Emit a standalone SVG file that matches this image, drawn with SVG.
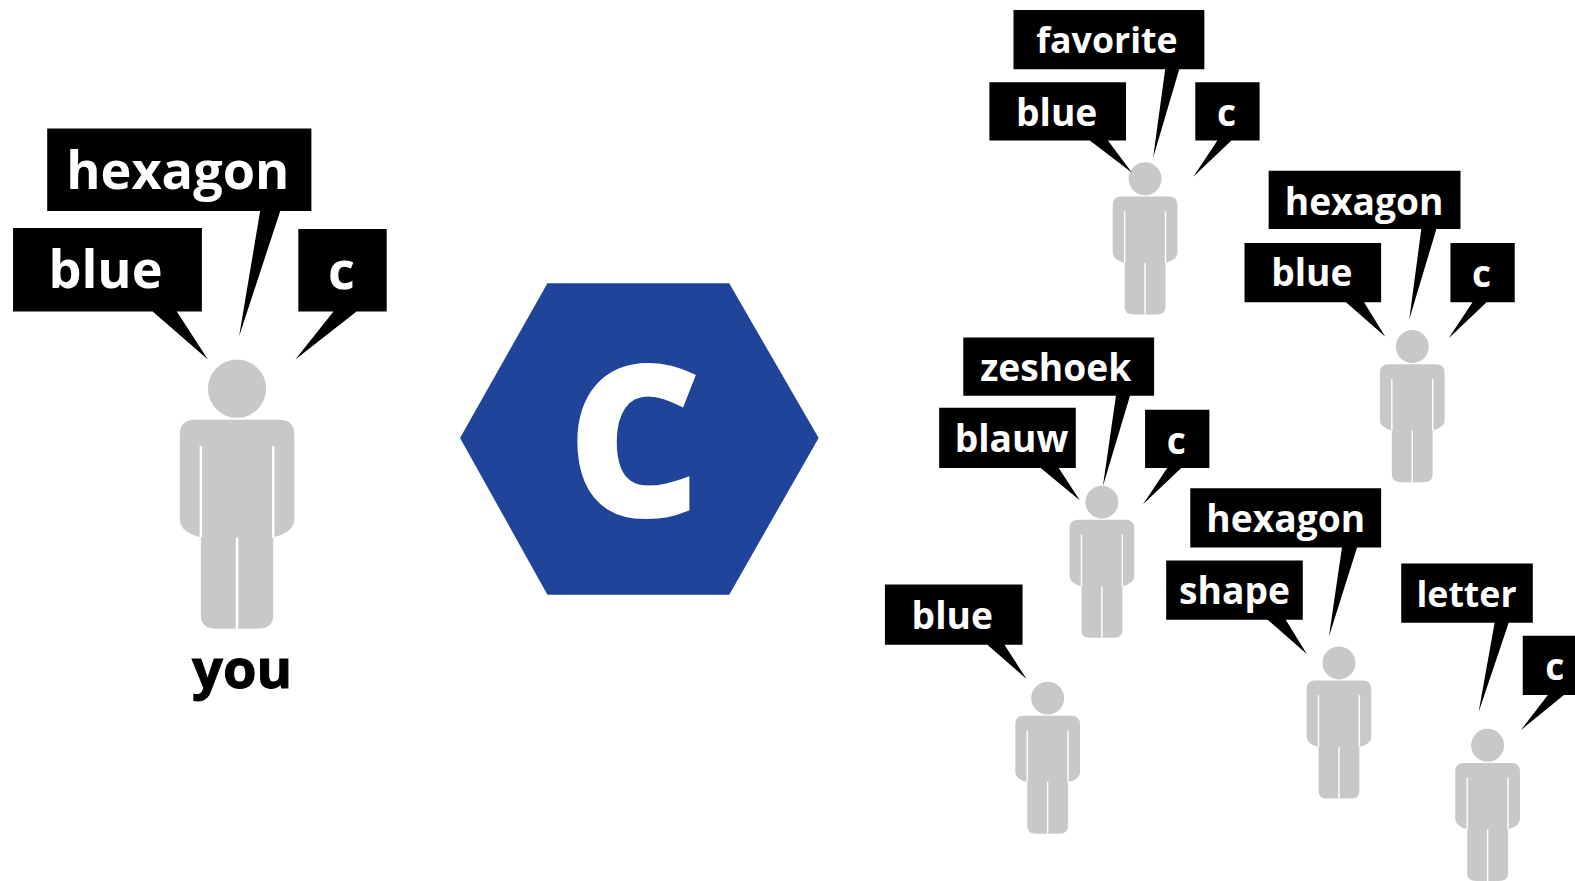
<svg xmlns="http://www.w3.org/2000/svg" width="1575" height="881" viewBox="0 0 1575 881">
<style>
.c{fill:#000}
.l{font-family:"Open Sans","Noto Sans","Liberation Sans",sans-serif;font-weight:700;fill:#fff;text-anchor:middle;font-size:37px}
.b{font-size:52px}
.f{font-size:35.5px}
</style>
<defs>
<g id="person">
<circle cx="0" cy="0" r="29" fill="#c8c8c8"/>
<path fill="#c8c8c8" d="M-42 31H42Q57 31 57 46V130Q57 143 36 148V226Q36 239 20 239H-20Q-36 239 -36 226V148Q-57 143 -57 130V46Q-57 31 -42 31Z"/>
<path fill="none" stroke="#fff" stroke-width="2.5" d="M-36 57V148M36 57V148M0 148V239"/>
</g>
</defs>
<rect width="1575" height="881" fill="#fff"/>
<g transform="scale(1.00446)">
<g id="you">
<use href="#person" x="236" y="387"/>
<path class="c" d="M47 128H310V210H279L238 335L259 210H47Z"/>
<path class="c" d="M13 227H201V310H176L207 358L152 310H13Z"/>
<path class="c" d="M297 228H385V310H355L294 358L332 310H297Z"/>
<text class="l b" x="177" y="188">hexagon</text>
<text class="l b" x="105" y="287">blue</text>
<text class="l b" x="340" y="288">c</text>
<text x="241" y="685" font-family="Open Sans,Noto Sans,sans-serif" font-weight="700" font-size="54" text-anchor="middle" fill="#000" stroke="#000" stroke-width="1">you</text>
</g>
<g id="hexagon">
<path fill="#21449b" d="M545 282H726L815 436L726 592H545L458 436Z"/>
<text x="631" y="511" font-family="Open Sans,Noto Sans,sans-serif" font-weight="700" font-size="200" text-anchor="middle" fill="#fff" stroke="#fff" stroke-width="8">C</text>
</g>
<g id="person1" transform="translate(1140 178)">
<use href="#person" transform="scale(.565)"/>
<path class="c" d="M-131 -168H59V-109H34L8 -21L20 -109H-131Z"/>
<path class="c" d="M-155 -96H-19V-38H-37L-13 -6L-55 -38H-155Z"/>
<path class="c" d="M50 -96H114V-38H86L48 -2L72 -38H50Z"/>
<text class="l f" x="-38" y="-125">favorite</text>
<text class="l" x="-88" y="-53">blue</text>
<text class="l" x="81" y="-53">c</text>
</g>
<g id="person2" transform="translate(1406 345)">
<use href="#person" transform="scale(.565)"/>
<path class="c" d="M-143 -175H48V-117H24L-3 -27L9 -117H-143Z"/>
<path class="c" d="M-167 -103H-31V-44H-48L-27 -10L-66 -44H-167Z"/>
<path class="c" d="M38 -103H102V-44H74L36 -8L60 -44H38Z"/>
<text class="l" x="-48" y="-131">hexagon</text>
<text class="l" x="-100" y="-60">blue</text>
<text class="l" x="69" y="-59">c</text>
</g>
<g id="person3" transform="translate(1097 500)">
<use href="#person" transform="scale(.565)"/>
<path class="c" d="M-138 -164H52V-106H28L1 -16L14 -106H-138Z"/>
<path class="c" d="M-162 -94H-26V-34H-43L-22 -2L-61 -34H-162Z"/>
<path class="c" d="M43 -92H107V-34H79L41 2L65 -34H43Z"/>
<text class="l" x="-46" y="-121">zeshoek</text>
<text class="l" x="-90" y="-50">blauw</text>
<text class="l" x="74" y="-48">c</text>
</g>
<g id="person4" transform="translate(1043 695)">
<use href="#person" transform="scale(.565)"/>
<path class="c" d="M-162 -113H-25V-53H-43L-21 -19L-60 -53H-162Z"/>
<text class="l" x="-95" y="-69">blue</text>
</g>
<g id="person5" transform="translate(1333 660)">
<use href="#person" transform="scale(.565)"/>
<path class="c" d="M-148 -174H42V-115H18L-10 -26L3 -115H-148Z"/>
<path class="c" d="M-172 -102H-36V-43H-53L-32 -9L-71 -43H-172Z"/>
<text class="l" x="-53" y="-130">hexagon</text>
<text class="l" x="-104" y="-59">shape</text>
</g>
<g id="person6" transform="translate(1481 742)">
<use href="#person" transform="scale(.565)"/>
<path class="c" d="M-86 -181H45V-122H21L-9 -33L7 -122H-86Z"/>
<path class="c" d="M35 -109H100V-50H76L33 -15L60 -50H35Z"/>
<text class="l f" x="-21" y="-138">letter</text>
<text class="l" x="67" y="-65">c</text>
</g>
</g>
</svg>
